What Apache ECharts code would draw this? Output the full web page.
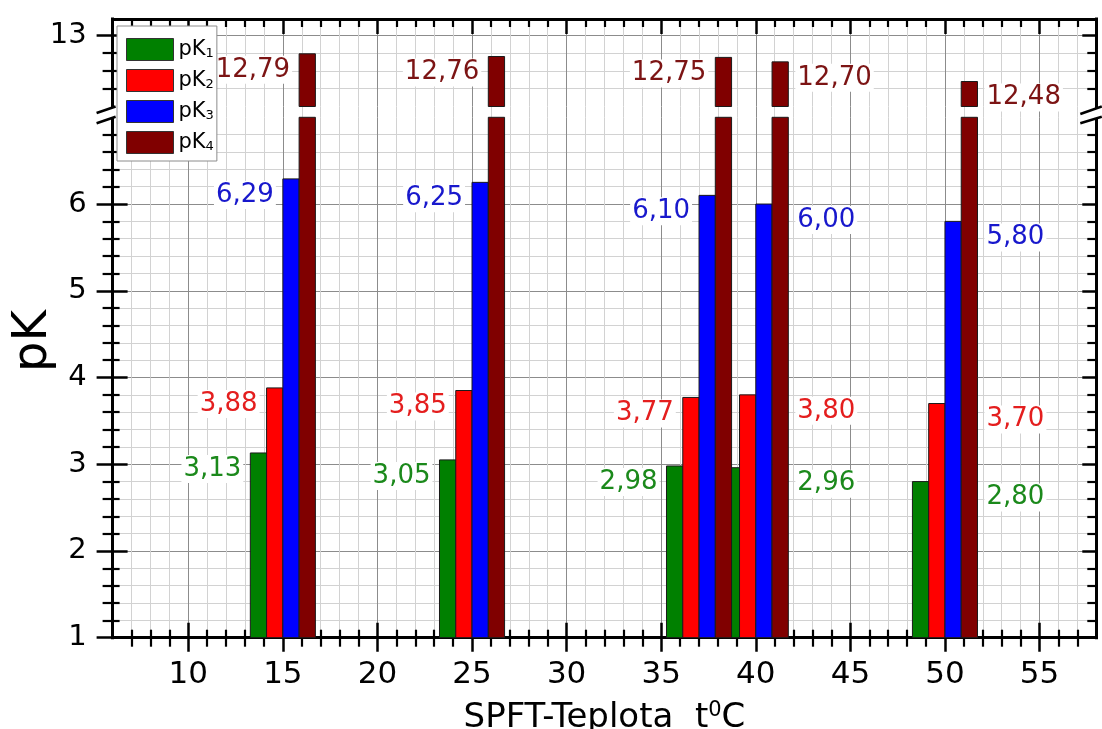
<!DOCTYPE html>
<html>
<head>
<meta charset="utf-8">
<script src="https://cdn.jsdelivr.net/npm/echarts@6.0.0/dist/echarts.min.js"></script>
<style>
  html, body { margin: 0; padding: 0; background: #fff; }
  #chart { width: 1102px; height: 729px; }
</style>
</head>
<body>
<div id="chart"></div>
<script>
// Dissociation constants pK1..pK4 at each temperature (°C)
const temperatures = [15, 25, 37, 40, 50];
const pK1 = [3.13, 3.05, 2.98, 2.96, 2.80];
const pK2 = [3.88, 3.85, 3.77, 3.80, 3.70];
const pK3 = [6.29, 6.25, 6.10, 6.00, 5.80];
const pK4 = [12.79, 12.76, 12.75, 12.70, 12.48];
const seriesNames = ['pK1', 'pK2', 'pK3', 'pK4'];
// which side of the group the value labels sit on, per temperature
const labelSide = ['left', 'left', 'left', 'right', 'right'];

// tick values
const xMajorTicks = [10, 15, 20, 25, 30, 35, 40, 45, 50, 55];
const yLowerTicks = [1, 2, 3, 4, 5, 6];
const yUpperTicks = [13];
const yUpperMinorTicks = [12.4, 12.6, 12.8];

const pKValues = [pK1, pK2, pK3, pK4];

const X_MIN = 6, X_MAX = 58;
const LOWER = { min: 1, max: 7 };        // lower part of the broken y axis
const UPPER = { min: 12.2, max: 13.18 }; // upper part of the broken y axis
const xMinorTicks = [];
for (let v = X_MIN + 1; v < X_MAX; v++) if (v % 5 !== 0) xMinorTicks.push(v);

const FONT = "'DejaVu Sans', sans-serif";
const BLACK = '#000';
const MAJOR_GRID = '#8c8c8c';
const MINOR_GRID = '#d2d2d2';
const BAR_COLORS = ['#008000', '#ff0000', '#0000ff', '#800000'];
const LABEL_COLORS = ['#1b891b', '#e41e1e', '#1818cc', '#7c1414'];
const BAR_W = 0.86;

function axis(base) {
  return Object.assign({
    type: 'value',
    axisLine: { show: false },
    axisTick: { show: false },
    axisLabel: { show: false },
    splitLine: { show: false },
    minorTick: { show: false },
    minorSplitLine: { show: false }
  }, base);
}
function ticks(values, length, inside, width) {
  return { show: true, customValues: values, length: length, inside: inside,
           lineStyle: { color: BLACK, width: width || 2.5 } };
}
const axisLineOn = { show: true, onZero: false, lineStyle: { color: BLACK, width: 3, cap: 'square' } };
const majorSplit = { show: true, lineStyle: { color: MAJOR_GRID, width: 1 } };
const minorSplit = { show: true, lineStyle: { color: MINOR_GRID, width: 1 } };

// grid 0: lower plot, grid 1: upper plot, grid 2: the band of the axis break
const xAxes = [
  // lower plot, bottom edge
  axis({ gridIndex: 0, position: 'bottom', min: X_MIN, max: X_MAX,
    axisLine: axisLineOn,
    axisTick: ticks(xMajorTicks, 14, false),
    axisLabel: { show: true, customValues: xMajorTicks, margin: 22, fontSize: 31,
                 fontFamily: FONT, color: BLACK },
    splitLine: Object.assign({}, majorSplit),
    name: '{a|SPFT-Teplota  t}{s|0}{a|C}',
    nameLocation: 'middle', nameGap: 62,
    nameTextStyle: { fontSize: 34, fontFamily: FONT, color: BLACK, rich: {
      a: { fontSize: 34, fontFamily: FONT, color: BLACK, lineHeight: 36 },
      s: { fontSize: 21, fontFamily: FONT, color: BLACK, lineHeight: 20, verticalAlign: 'top' }
    } }
  }),
  axis({ gridIndex: 0, position: 'bottom', min: X_MIN, max: X_MAX,
    axisTick: ticks(xMajorTicks, 15, true) }),
  axis({ gridIndex: 0, position: 'bottom', min: X_MIN, max: X_MAX,
    axisTick: ticks(xMinorTicks, 9, false, 2.2),
    splitLine: Object.assign({}, minorSplit) }),
  axis({ gridIndex: 0, position: 'bottom', min: X_MIN, max: X_MAX,
    axisTick: ticks(xMinorTicks, 8, true, 2.2) }),
  // upper plot, top edge
  axis({ gridIndex: 1, position: 'top', min: X_MIN, max: X_MAX,
    axisLine: axisLineOn,
    axisTick: ticks(xMajorTicks, 15, true),
    splitLine: Object.assign({}, majorSplit) }),
  axis({ gridIndex: 1, position: 'top', min: X_MIN, max: X_MAX,
    axisTick: ticks(xMinorTicks, 8, true, 2.2),
    splitLine: Object.assign({}, minorSplit) }),
  // break band: only the vertical grid lines
  axis({ gridIndex: 2, position: 'bottom', min: X_MIN, max: X_MAX,
    axisTick: { show: false, customValues: xMajorTicks },
    splitLine: Object.assign({}, majorSplit) }),
  axis({ gridIndex: 2, position: 'bottom', min: X_MIN, max: X_MAX,
    axisTick: { show: false, customValues: xMinorTicks },
    splitLine: Object.assign({}, minorSplit) })
];

const yAxes = [
  // 0..2: lower plot
  axis({ gridIndex: 0, position: 'left', min: LOWER.min, max: LOWER.max, interval: 1,
    axisLine: axisLineOn,
    axisTick: ticks(yLowerTicks, 16, false),
    minorTick: { show: true, splitNumber: 5, length: 10, lineStyle: { color: BLACK, width: 2.2 } },
    axisLabel: { show: true, customValues: yLowerTicks, margin: 26, fontSize: 29,
                 fontFamily: FONT, color: BLACK },
    splitLine: Object.assign({}, majorSplit),
    minorSplitLine: Object.assign({}, minorSplit) }),
  axis({ gridIndex: 0, position: 'left', min: LOWER.min, max: LOWER.max, interval: 1,
    axisTick: ticks(yLowerTicks, 15, true),
    minorTick: { show: true, splitNumber: 5, length: 7, lineStyle: { color: BLACK, width: 2.2 } } }),
  axis({ gridIndex: 0, position: 'right', min: LOWER.min, max: LOWER.max, interval: 1,
    axisLine: axisLineOn,
    axisTick: ticks(yLowerTicks, 14, true),
    minorTick: { show: true, splitNumber: 5, length: 9, lineStyle: { color: BLACK, width: 2.2 } } }),
  // 3..8: upper plot
  axis({ gridIndex: 1, position: 'left', min: UPPER.min, max: UPPER.max,
    axisLine: axisLineOn,
    axisTick: ticks(yUpperTicks, 16, false),
    axisLabel: { show: true, customValues: yUpperTicks, margin: 26, fontSize: 29,
                 fontFamily: FONT, color: BLACK },
    splitLine: Object.assign({}, majorSplit) }),
  axis({ gridIndex: 1, position: 'left', min: UPPER.min, max: UPPER.max,
    axisTick: ticks(yUpperTicks, 15, true) }),
  axis({ gridIndex: 1, position: 'left', min: UPPER.min, max: UPPER.max,
    axisTick: ticks(yUpperMinorTicks, 10, false, 2.2),
    splitLine: Object.assign({}, minorSplit) }),
  axis({ gridIndex: 1, position: 'left', min: UPPER.min, max: UPPER.max,
    axisTick: ticks(yUpperMinorTicks, 7, true, 2.2) }),
  axis({ gridIndex: 1, position: 'right', min: UPPER.min, max: UPPER.max,
    axisLine: axisLineOn,
    axisTick: ticks(yUpperTicks, 14, true) }),
  axis({ gridIndex: 1, position: 'right', min: UPPER.min, max: UPPER.max,
    axisTick: ticks(yUpperMinorTicks, 9, true, 2.2) }),
  // 9: break band
  axis({ gridIndex: 2, position: 'left', min: 0, max: 1 })
];

const PARTS = [
  { xAxisIndex: 0, yAxisIndex: 0, range: LOWER },
  { xAxisIndex: 4, yAxisIndex: 3, range: UPPER }
];

function fmt(v) { return v.toFixed(2).replace('.', ','); }

function barSeries(k, part) {
  return {
    type: 'custom',
    name: seriesNames[k],
    xAxisIndex: part.xAxisIndex,
    yAxisIndex: part.yAxisIndex,
    z: 3,
    itemStyle: { color: BAR_COLORS[k], borderColor: '#1a1a1a', borderWidth: 1 },
    data: temperatures.map((t, j) => [t, pKValues[k][j], j]),
    encode: { x: 0, y: 1 },
    renderItem: function (params, api) {
      const t = api.value(0), v = api.value(1), j = api.value(2);
      if (v <= part.range.min) return null;
      const top = Math.min(v, part.range.max);
      const p0 = api.coord([t + (k - 2) * BAR_W, part.range.min]);
      const p1 = api.coord([t + (k - 1) * BAR_W, top]);
      const children = [{
        type: 'rect',
        shape: { x: p0[0], y: p1[1], width: p1[0] - p0[0], height: p0[1] - p1[1] },
        style: { fill: BAR_COLORS[k], stroke: '#1a1a1a', lineWidth: 1 }
      }];
      if (v <= part.range.max) {
        const right = labelSide[j] === 'right';
        const lx = right ? api.coord([t + 2 * BAR_W, v])[0] + 7 : p0[0] - 7;
        children.push({
          type: 'text', z2: 10,
          style: {
            text: fmt(v), x: lx, y: p1[1] + 16,
            fill: LABEL_COLORS[k], font: '26px ' + FONT,
            align: right ? 'left' : 'right', verticalAlign: 'middle',
            backgroundColor: '#fff', padding: [1, 2]
          }
        });
      }
      return { type: 'group', children: children };
    }
  };
}

const series = [];
PARTS.forEach(part => { for (let k = 0; k < 4; k++) series.push(barSeries(k, part)); });

const option = {
  animation: false,
  backgroundColor: '#fff',
  textStyle: { fontFamily: FONT },
  grid: [
    { left: 112.6, right: 5.7, top: 117.3, height: 520.4, outerBoundsMode: 'none' },
    { left: 112.6, right: 5.7, top: 19, height: 87.5, outerBoundsMode: 'none' },
    { left: 112.6, right: 5.7, top: 106.5, height: 10.8, outerBoundsMode: 'none' }
  ],
  xAxis: xAxes,
  yAxis: yAxes,
  legend: {
    orient: 'vertical', left: 117, top: 26,
    padding: [12, 3, 7, 9],
    itemWidth: 47, itemHeight: 22, itemGap: 8, icon: 'rect',
    backgroundColor: '#fff', borderColor: '#8c8c8c', borderWidth: 1, borderRadius: 0,
    selectedMode: false,
    data: seriesNames.map((n, k) => ({
      name: n, itemStyle: { color: BAR_COLORS[k], borderColor: '#333', borderWidth: 1 }
    })),
    formatter: n => '{m|pK}{s|' + n.slice(2) + '}',
    textStyle: { fontSize: 21, fontFamily: FONT, color: BLACK, rich: {
      m: { fontSize: 21, fontFamily: FONT, color: BLACK, lineHeight: 22 },
      s: { fontSize: 13, fontFamily: FONT, color: BLACK, lineHeight: 11, verticalAlign: 'bottom' }
    } }
  },
  series: series
};

const chart = echarts.init(document.getElementById('chart'));
chart.setOption(option);

// axis-break marks and the y axis title
const xl = chart.convertToPixel({ xAxisIndex: 0 }, X_MIN);
const xr = chart.convertToPixel({ xAxisIndex: 0 }, X_MAX);
const yU = chart.convertToPixel({ yAxisIndex: 3 }, UPPER.min);
const yL = chart.convertToPixel({ yAxisIndex: 0 }, LOWER.max);
const breakLine = (x1, y1, x2, y2) => ({
  type: 'line', z: 100,
  shape: { x1: x1, y1: y1, x2: x2, y2: y2 },
  style: { stroke: BLACK, lineWidth: 2.5 }
});
const breakMask = (pts) => ({
  type: 'polygon', z: 99, shape: { points: pts }, style: { fill: '#fff' }
});
chart.setOption({
  graphic: [
    breakMask([[xl - 16, yU + 6.5], [xl + 3, yU], [xl + 3, yL - 0.5], [xl - 16, yL + 6]]),
    breakLine(xl - 16, yU + 6.5, xl + 3, yU),
    breakLine(xl - 16, yL + 6, xl + 3, yL - 0.5),
    breakMask([[xr - 16, yU + 7.5], [xr + 5.5, yU], [xr + 5.5, yL - 0.5], [xr - 16, yL + 6]]),
    breakLine(xr - 16, yU + 7.5, xr + 5.5, yU),
    breakLine(xr - 16, yL + 6, xr + 5.5, yL - 0.5),
    {
      type: 'text', z: 100, x: 34, y: 341, rotation: Math.PI / 2,
      style: { text: 'pK', font: '48px ' + FONT, fill: BLACK, align: 'center', verticalAlign: 'middle' }
    }
  ]
});
</script>
</body>
</html>
